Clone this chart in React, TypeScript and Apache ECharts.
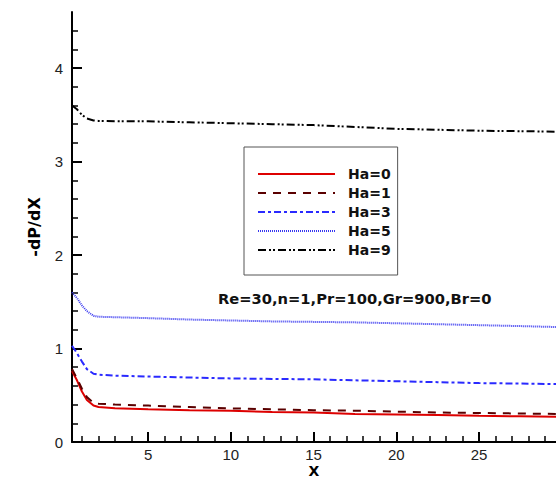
import React, { useEffect, useRef } from "react";
import * as echarts from "echarts";

const xValues = [0.4, 0.7, 1.0, 1.3, 1.7, 2, 3, 5, 7.5, 10, 12.5, 15, 17.5, 20, 22.5, 25, 27.5, 29.65];
const ha0 = [0.76, 0.66, 0.54, 0.45, 0.39, 0.375, 0.36, 0.35, 0.34, 0.335, 0.32, 0.315, 0.30, 0.295, 0.29, 0.28, 0.275, 0.27];
const ha1 = [0.78, 0.68, 0.57, 0.48, 0.42, 0.41, 0.40, 0.39, 0.375, 0.36, 0.35, 0.34, 0.335, 0.325, 0.315, 0.31, 0.305, 0.30];
const ha3 = [1.03, 0.95, 0.86, 0.78, 0.73, 0.72, 0.71, 0.70, 0.69, 0.68, 0.675, 0.67, 0.66, 0.65, 0.64, 0.63, 0.625, 0.62];
const ha5 = [1.6, 1.54, 1.46, 1.4, 1.35, 1.34, 1.335, 1.325, 1.31, 1.3, 1.29, 1.285, 1.28, 1.27, 1.26, 1.25, 1.24, 1.23];
const ha9 = [3.6, 3.56, 3.5, 3.46, 3.44, 3.435, 3.432, 3.43, 3.42, 3.41, 3.4, 3.39, 3.37, 3.35, 3.34, 3.33, 3.325, 3.32];

const seriesNames = ["Ha=0", "Ha=1", "Ha=3", "Ha=5", "Ha=9"];
const seriesValues = [ha0, ha1, ha3, ha5, ha9];
const xMajorTicks = [5, 10, 15, 20, 25];
const xMinorTicks = Array.from({ length: 29 }, (_, i) => i + 1);
const yMajorTicks = [0, 1, 2, 3, 4];
const yMinorTicks = [0.2, 0.4, 0.6, 0.8, 1.2, 1.4, 1.6, 1.8, 2.2, 2.4, 2.6, 2.8, 3.2, 3.4, 3.6, 3.8, 4.2, 4.4];
const annotation = "Re=30,n=1,Pr=100,Gr=900,Br=0";

const styles = [
  { color: "#dd0000", width: 2, type: "solid" as any },
  { color: "#5a0000", width: 2, type: [8, 7] as any },
  { color: "#2a2aff", width: 2, type: [7, 3, 3, 3] as any },
  { color: "#3838f0", width: 2, type: [1, 1] as any },
  { color: "#000000", width: 2, type: [8, 3, 2, 2, 2, 3] as any },
];

export default function App() {
  const ref = useRef<HTMLDivElement>(null);
  useEffect(() => {
    if (!ref.current) return;
    const chart = echarts.init(ref.current, null, { renderer: "svg" });
    const labelFont = { fontFamily: "Liberation Sans", fontSize: 15, color: "#222" };
    const boldFont = "DejaVu Sans";
    const xMin = 0.4;
    const xMax = 29.65;
    const yMin = 0;
    const yMax = 4.6;
    chart.setOption({
      animation: false,
      backgroundColor: "#ffffff",
      grid: { left: 72, right: 0, top: 12, bottom: 37, containLabel: false, outerBoundsMode: "none" },
      legend: {
        orient: "vertical",
        left: 244,
        top: 147,
        data: seriesNames,
        borderColor: "#555555",
        borderWidth: 1,
        padding: [20, 7, 18, 13],
        itemWidth: 77,
        itemHeight: 14,
        itemGap: 5,
        itemStyle: { opacity: 0 },
        textStyle: { fontFamily: boldFont, fontWeight: "bold", fontSize: 14, color: "#111", padding: [0, 0, 0, 8] },
      },
      xAxis: [
        {
          type: "value",
          min: xMin,
          max: xMax,
          name: "X",
          nameLocation: "middle",
          nameGap: 23,
          nameMoveOverlap: false,
          nameTextStyle: { fontFamily: boldFont, fontWeight: "bold", fontSize: 14, lineHeight: 12, color: "#000" },
          axisLine: { show: true, onZero: false, lineStyle: { color: "#000", width: 2 } },
          axisTick: { show: true, inside: true, length: 10, customValues: xMajorTicks, lineStyle: { color: "#000", width: 2 } },
          axisLabel: { show: true, margin: 5, customValues: xMajorTicks, ...labelFont },
          splitLine: { show: false },
        },
        {
          type: "value",
          min: xMin,
          max: xMax,
          position: "bottom",
          axisLine: { show: false },
          axisTick: { show: true, inside: true, length: 6, customValues: xMinorTicks, lineStyle: { color: "#000", width: 1.5 } },
          axisLabel: { show: false },
          splitLine: { show: false },
        },
      ],
      yAxis: [
        {
          type: "value",
          min: yMin,
          max: yMax,
          name: "-dP/dX",
          nameLocation: "middle",
          nameGap: 30,
          nameRotate: 90,
          nameTextStyle: { fontFamily: boldFont, fontWeight: "bold", fontSize: 16, color: "#000" },
          axisLine: { show: true, onZero: false, lineStyle: { color: "#000", width: 2 } },
          axisTick: { show: true, inside: true, length: 10, customValues: yMajorTicks, lineStyle: { color: "#000", width: 2 } },
          axisLabel: { show: true, margin: 9, customValues: yMajorTicks, ...labelFont },
          splitLine: { show: false },
        },
        {
          type: "value",
          min: yMin,
          max: yMax,
          position: "left",
          axisLine: { show: false },
          axisTick: { show: true, inside: true, length: 6, customValues: yMinorTicks, lineStyle: { color: "#000", width: 1.5 } },
          axisLabel: { show: false },
          splitLine: { show: false },
        },
      ],
      series: seriesNames.map((name, i) => ({
        name,
        type: "line",
        xAxisIndex: 0,
        yAxisIndex: 0,
        showSymbol: false,
        symbol: "none",
        smooth: false,
        clip: true,
        lineStyle: { color: styles[i].color, width: styles[i].width, type: styles[i].type },
        itemStyle: { color: styles[i].color },
        data: xValues.map((x, j) => [x, seriesValues[i][j]]),
      })),
      graphic: [
        {
          type: "text",
          left: 218,
          top: 291,
          style: {
            text: annotation,
            fontFamily: boldFont,
            fontWeight: "bold",
            fontSize: 14.7,
            fill: "#111",
          },
        },
      ],
    });
    return () => chart.dispose();
  }, []);
  return (
    <div
      ref={ref}
      style={{ position: "fixed", left: 0, top: 0, width: 556, height: 479, background: "#fff" }}
    />
  );
}
